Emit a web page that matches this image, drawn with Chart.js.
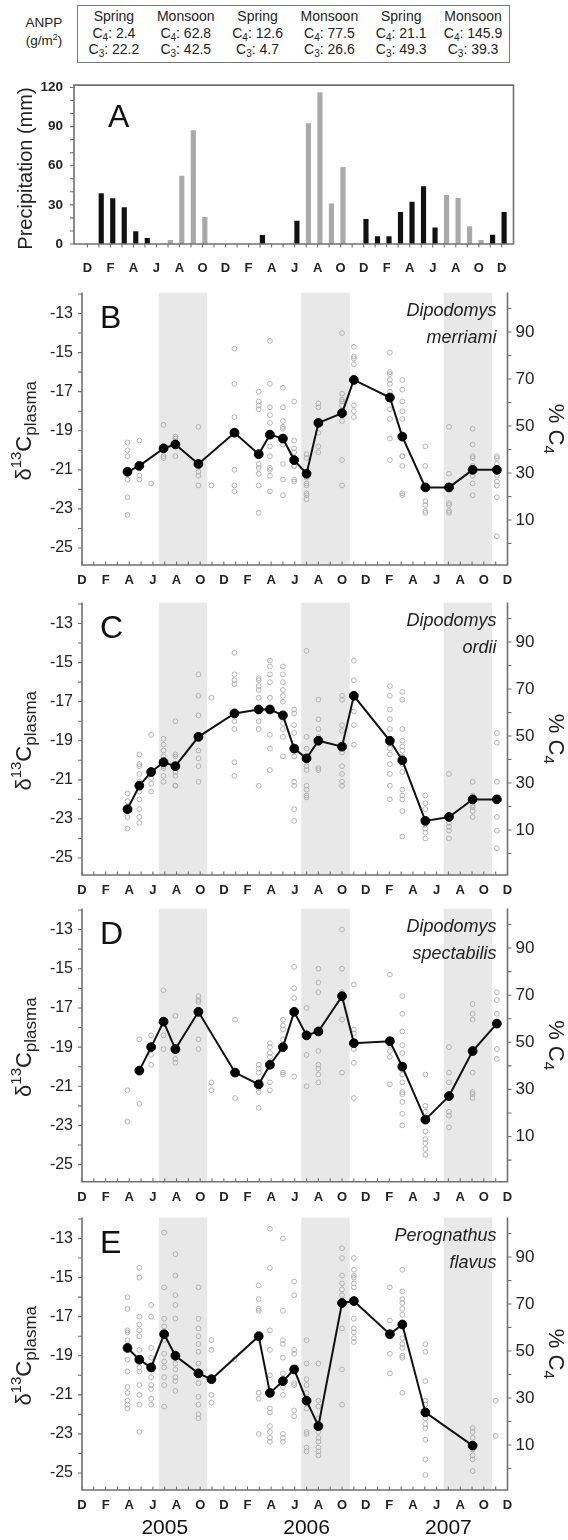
<!DOCTYPE html>
<html>
<head>
<meta charset="utf-8">
<script src="https://cdn.jsdelivr.net/npm/chart.js@4.4.0/dist/chart.umd.min.js"></script>
<style>
  body { margin: 0; background: #fff; width: 568px; height: 1540px; position: relative; overflow: hidden;
         font-family: "Liberation Sans", Arial, Helvetica, sans-serif; color: #222; }
  canvas { position: absolute; left: 0; }
  sub { font-size: 10px; vertical-align: -3px; line-height: 0; }
  sup { font-size: 9px; vertical-align: 5px; line-height: 0; }
  #anppLab { position: absolute; left: 14px; top: 14px; width: 60px; text-align: center; font-size: 13.5px; line-height: 18.4px; }
  #anpp { position: absolute; left: 77px; top: 5px; width: 433px; height: 58px; border: 1.5px solid #777;
          box-sizing: border-box; display: flex; }
  #anpp .col { flex: 1; text-align: center; font-size: 14px; line-height: 16.6px; padding-top: 2px; }
</style>
</head>
<body>
<div id="anppLab">ANPP<br>(g/m<sup>2</sup>)</div>
<div id="anpp"></div>
<canvas id="panelA" width="568" height="214" style="top:66px"></canvas>
<canvas id="panelB" width="568" height="317" style="top:274px"></canvas>
<canvas id="panelC" width="568" height="317" style="top:584px"></canvas>
<canvas id="panelD" width="568" height="318" style="top:890px"></canvas>
<canvas id="panelE" width="568" height="341" style="top:1199px"></canvas>
<script>
// ---- data ----
const monthLetters = ['D', 'F', 'A', 'J', 'A', 'O'];
const yearLabels = ['2005', '2006', '2007'];
const yearMonths = [7, 19, 31];
const monsoonBands = [[6.5, 10.6], [18.55, 22.65], [30.6, 34.7]];

const anppSeasons = ['Spring', 'Monsoon', 'Spring', 'Monsoon', 'Spring', 'Monsoon'];
const anppC4 = ['2.4', '62.8', '12.6', '77.5', '21.1', '145.9'];
const anppC3 = ['22.2', '42.5', '4.7', '26.6', '49.3', '39.3'];

// months counted from Dec 2004 = 0
const rainMonths = [1, 2, 3, 4, 5, 7, 8, 9, 10, 15, 18, 19, 20, 21, 22, 24, 25, 26, 27, 28, 29, 30, 31, 32, 33, 34, 35, 36];
const rainValues = [38.6, 34.8, 28, 9.5, 4.3, 2.8, 52.1, 87, 20.4, 6.6, 17.5, 92.4, 116, 30.8, 58.8, 19, 5.7, 5.7, 24.2, 32.2, 44, 12.3, 37.4, 35, 13.3, 2.8, 6.9, 24.2];

const bMonths = [3.85, 4.85, 5.85, 6.9, 7.9, 9.85, 10.95, 12.9, 14.95, 15.9, 17, 17.95, 19, 20, 22, 23, 26.05, 27.1, 29.05, 31.05, 33.05, 35.1];
const bMean = [-21.1, -20.8, null, -19.9, -19.7, -20.7, null, -19.1, -20.2, -19.2, -19.4, -20.5, -21.2, -18.6, -18.1, -16.4, -17.3, -19.3, -21.9, -21.9, -21.0, -21.0];
const bIndiv = [
  [-19.6, -20.0, -20.3, -21.5, -22.4, -23.3],
  [-19.5, -21.3, -21.5],
  [-21.7],
  [-18.7, -20.3, -20.4],
  [-19.3, -19.4, -20.3],
  [-18.8, -21.1, -21.3, -21.8],
  [-21.8],
  [-14.8, -16.6, -18.3, -21.0, -21.8, -22.1],
  [-17.0, -17.5, -17.7, -17.9, -20.7, -20.9, -21.2, -21.8, -23.2],
  [-14.4, -16.6, -17.8, -18.2, -18.6, -19.1, -19.8, -20.3, -20.9, -21.0, -21.3, -22.1],
  [-16.8, -17.8, -18.5, -18.8, -18.9, -19.7, -20.7, -21.5, -22.3],
  [-17.5, -19.5, -19.9, -20.1, -20.8, -20.8, -21.5, -21.6],
  [-20.2, -20.4, -21.4, -21.7, -21.8, -22.2, -22.3, -22.5],
  [-17.6, -17.8, -19.1, -19.8, -20.1],
  [-14.0, -17.1, -17.4, -17.5, -17.7, -18.0, -18.5, -20.5, -21.8],
  [-14.7, -15.2, -15.3, -15.6, -17.7, -18.0, -18.3],
  [-15.0, -16.0, -16.1, -16.4, -16.6, -17.0, -17.9, -18.4, -19.4, -20.5],
  [-16.4, -16.9, -17.5, -18.0, -18.4, -20.3, -20.3, -20.8, -22.2, -22.3],
  [-19.8, -20.8, -22.6, -22.8, -23.1, -23.2],
  [-18.8, -21.2, -22.7, -22.8, -23.1, -23.2],
  [-18.9, -19.7, -20.3, -20.4, -20.8, -21.3, -21.7, -22.3],
  [-20.3, -20.4, -20.7, -21.0, -21.3, -21.6, -21.8, -22.4, -24.4]
];

const cMonths = [3.85, 4.85, 5.85, 6.9, 7.9, 9.85, 10.95, 12.9, 14.95, 15.9, 17, 17.95, 19, 20, 22, 23, 26.05, 27.1, 29.05, 31.05, 33.05, 35.1];
const cMean = [-22.5, -21.3, -20.6, -20.1, -20.3, -18.8, null, -17.6, -17.4, -17.4, -17.7, -19.4, -19.9, -19.0, -19.3, -16.7, -19.0, -20.0, -23.1, -22.9, -22.0, -22.0];
const cIndiv = [
  [-21.7, -22.1, -22.9, -23.5],
  [-19.7, -20.2, -20.3, -20.7, -21.1, -21.6, -22.0, -22.5, -22.9, -23.2],
  [-18.7, -20.7, -20.9, -21.2, -21.6],
  [-18.9, -19.2, -19.5, -19.8, -20.3, -20.4, -20.8, -21.1],
  [-18.0, -19.7, -19.8, -20.6, -20.8, -21.3, -21.3],
  [-15.6, -16.7, -17.7, -19.5, -19.9, -20.3, -21.1],
  [-16.8],
  [-14.5, -15.6, -15.9, -16.1, -18.0, -18.4, -20.1, -20.8],
  [-15.8, -15.9, -16.2, -16.4, -16.8, -18.0, -18.4, -21.3],
  [-14.9, -15.2, -15.6, -16.0, -16.8, -18.7, -19.4, -20.5],
  [-15.2, -15.6, -16.0, -16.4, -16.7, -17.0, -18.1, -18.4, -18.8, -19.8],
  [-17.4, -17.6, -18.2, -18.6, -19.8, -21.1, -21.3, -22.5, -23.1],
  [-14.4, -18.8, -19.4, -20.3, -20.5, -21.3, -21.5, -21.8, -21.9],
  [-16.9, -17.9, -18.4, -18.8, -19.0, -20.4, -20.5],
  [-16.7, -16.9, -18.2, -18.5, -19.6, -20.3, -20.7, -21.1, -21.3],
  [-14.9, -15.9, -17.5, -18.2, -19.2],
  [-16.2, -16.7, -17.4, -17.9, -18.4, -19.4, -19.7, -20.2, -20.7, -21.3, -22.0],
  [-16.5, -16.9, -18.4, -19.0, -19.3, -19.5, -19.8, -20.2, -20.6, -21.5, -21.8, -22.0, -22.6, -23.9],
  [-21.8, -22.2, -22.5, -23.3, -23.5, -23.7, -24.0],
  [-20.7, -22.9, -23.2, -23.4, -23.6, -24.0],
  [-21.1, -21.8, -22.3, -22.4, -22.6, -22.9],
  [-18.6, -19.1, -21.1, -22.9, -23.6, -24.5]
];

const dMonths = [3.85, 4.85, 5.85, 6.9, 7.9, 9.85, 10.95, 12.95, 14.95, 15.9, 17, 17.95, 19, 20, 22, 23, 26.05, 27.1, 29.05, 31.05, 33.05, 35.1];
const dMean = [null, -20.2, -19.0, -17.7, -19.1, -17.2, null, -20.3, -20.9, -19.9, -19.0, -17.2, -18.4, -18.2, -16.4, -18.8, -18.7, -20.0, -22.7, -21.5, -19.2, -17.8];
const dIndiv = [
  [-21.2, -22.8],
  [-18.6, -21.9],
  [-18.4, -19.4, -19.9],
  [-16.1, -18.4, -19.1],
  [-17.4, -19.6, -19.8],
  [-16.4, -16.6, -16.7, -18.6, -19.1],
  [-20.8, -21.2],
  [-17.6, -21.6],
  [-19.9, -20.1, -20.3, -21.1, -21.3, -22.1],
  [-18.8, -19.0, -19.3, -19.5, -20.8, -21.2],
  [-17.6, -17.9, -18.1, -18.6, -20.3, -20.4],
  [-14.9, -16.0, -16.5, -20.5],
  [-17.0, -18.4, -19.4, -21.0],
  [-15.0, -15.7, -16.2, -19.2, -19.9, -20.1, -20.4, -20.8],
  [-13.0, -15.0, -16.2, -17.6, -20.3],
  [-15.8, -18.1, -18.3, -19.1, -19.8, -21.6],
  [-15.3, -18.9, -19.2, -19.5, -20.9],
  [-16.4, -17.3, -18.2, -18.9, -19.3, -20.4, -20.8, -21.3, -21.4, -21.8, -22.4, -23.0],
  [-20.4, -22.0, -22.3, -23.3, -23.7, -23.9, -24.2, -24.5],
  [-19.0, -20.3, -20.8, -22.3, -22.5, -23.1],
  [-16.8, -17.3, -17.6, -20.3, -21.3, -21.4, -21.6],
  [-16.2, -16.6, -17.3, -19.1, -19.6]
];

const eMonths = [3.85, 4.85, 5.85, 6.95, 7.9, 9.85, 10.95, 12.9, 14.95, 15.9, 17, 17.95, 19, 20, 22, 23, 26.05, 27.1, 29.05, 33.05, 35.0];
const eMean = [-18.6, -19.2, -19.6, -17.9, -19.0, -19.9, -20.2, null, -18.0, -20.9, -20.3, -19.7, -21.3, -22.6, -16.3, -16.2, -17.9, -17.4, -21.9, -23.6, null];
const eIndiv = [
  [-16.0, -16.6, -17.7, -17.8, -18.2, -19.2, -19.8, -20.6, -20.9, -21.3, -21.5, -21.7],
  [-14.5, -15.0, -17.0, -17.4, -17.7, -18.0, -18.7, -19.6, -19.8, -20.5, -21.0, -21.5, -22.9],
  [-16.4, -17.0, -18.6, -19.1, -20.1, -20.5, -20.7, -21.2, -21.5],
  [-12.7, -15.5, -17.1, -17.5, -18.2, -18.9, -19.3, -19.6, -20.1, -20.5, -21.6],
  [-13.8, -14.9, -15.9, -16.4, -17.1, -19.4, -19.7, -20.1, -20.3, -20.8],
  [-15.5, -17.1, -17.6, -18.0, -18.4, -18.8, -19.4, -20.0, -20.4, -21.1, -21.5, -22.0, -22.2],
  [-18.2, -18.7, -20.2, -21.0, -21.4],
  [-19.2],
  [-15.4, -16.1, -16.6, -16.7, -20.9, -21.2, -23.0],
  [-12.5, -14.5, -17.7, -18.7, -20.0, -21.7, -21.9, -22.6, -22.9, -23.2, -23.4],
  [-13.0, -16.7, -18.2, -18.4, -19.1, -19.9, -20.2, -20.6, -21.0, -23.0, -23.2, -23.4],
  [-15.2, -15.9, -18.7, -18.9, -20.4, -20.5, -21.8, -22.1],
  [-18.2, -19.4, -20.2, -20.5, -20.9, -21.7, -22.9, -23.0, -23.7, -23.9],
  [-19.4, -21.3, -21.6, -22.2, -22.9, -23.2, -23.4, -23.7, -23.9, -24.1],
  [-13.5, -14.0, -14.9, -15.3, -15.6, -15.9, -17.6, -19.7, -21.5],
  [-14.0, -14.6, -14.9, -15.0, -15.3, -15.5, -17.1, -17.6, -17.8, -18.1, -18.3],
  [-15.5, -17.2, -18.9, -19.9],
  [-14.6, -15.7, -16.1, -16.3, -16.6, -16.9, -17.3, -18.1, -18.4, -18.6, -19.0, -19.1, -20.9],
  [-18.4, -18.8, -20.3, -21.3, -21.5, -22.2, -22.5, -22.7, -23.3, -24.3, -25.1],
  [-22.7, -22.9, -23.2, -23.8, -24.1, -24.3, -24.9],
  [-21.3, -23.1]
];

// ---- layout / style ----
const FONT = '"Liberation Sans", Arial, Helvetica, sans-serif';
Chart.defaults.font.family = FONT;
Chart.defaults.color = '#222';
const FRAME = '#707070';
const BAND = '#e8e8e8';
const BAR_SHIFT = 0.2;
const D13_RANGE = [-25.87, -11.93];
const C4_RANGE = [-9.17, 106.75];

// ANPP box
document.getElementById('anpp').innerHTML = anppSeasons.map((s, i) =>
  `<div class="col">${s}<br>C<sub>4</sub>: ${anppC4[i]}<br>C<sub>3</sub>: ${anppC3[i]}</div>`).join('');

function range(a, b, step) {
  const out = [];
  for (let v = a; v <= b + 1e-9; v += step) out.push(v);
  return out;
}

function drawRich(ctx, parts, cx, cy, rot) {
  ctx.save();
  ctx.translate(cx, cy);
  ctx.rotate(rot);
  ctx.textAlign = 'left';
  ctx.textBaseline = 'alphabetic';
  ctx.fillStyle = '#222';
  let total = 0;
  parts.forEach(p => {
    ctx.font = `${p.style || ''} ${p.size}px ${FONT}`;
    p.w = ctx.measureText(p.t).width;
    total += p.w;
  });
  let x0 = -total / 2;
  parts.forEach(p => {
    ctx.font = `${p.style || ''} ${p.size}px ${FONT}`;
    ctx.fillText(p.t, x0, p.dy);
    x0 += p.w;
  });
  ctx.restore();
}

// draws bands, frame, ticks and panel texts
function decor(cfg) {
  return {
    id: 'decor',
    beforeDatasetsDraw(chart) {
      if (!cfg.bands) return;
      const { ctx, chartArea: a, scales: { x } } = chart;
      ctx.save();
      ctx.fillStyle = BAND;
      cfg.bands.forEach(([s, e]) => {
        const x0 = x.getPixelForValue(s), x1 = x.getPixelForValue(e);
        ctx.fillRect(x0, a.top, x1 - x0, a.bottom - a.top);
      });
      ctx.restore();
    },
    afterDraw(chart) {
      const { ctx, chartArea: a, scales } = chart;
      ctx.save();
      ctx.strokeStyle = FRAME;
      ctx.lineWidth = 1.6;
      ctx.beginPath();
      if (cfg.boxed) {
        ctx.rect(a.left, a.top, a.right - a.left, a.bottom - a.top);
      } else {
        ctx.moveTo(a.left, a.top);
        ctx.lineTo(a.left, a.bottom);
        ctx.lineTo(a.right, a.bottom);
        ctx.lineTo(a.right, a.top);
      }
      ctx.stroke();

      ctx.lineWidth = 1.1;
      ctx.beginPath();
      range(0, 36, 1).forEach(m => {
        const px = scales.x.getPixelForValue(m);
        ctx.moveTo(px, a.bottom);
        ctx.lineTo(px, a.bottom + cfg.xTickDir * 3.5);
      });
      cfg.leftTicks.forEach(v => {
        const py = scales.y.getPixelForValue(v);
        ctx.moveTo(a.left, py);
        ctx.lineTo(a.left - 4, py);
      });
      if (cfg.rightTicks) {
        cfg.rightTicks.forEach(v => {
          const py = scales.y2.getPixelForValue(v);
          ctx.moveTo(a.right, py);
          ctx.lineTo(a.right + 4, py);
        });
      }
      ctx.stroke();

      // panel letter
      ctx.fillStyle = '#111';
      ctx.font = `32px ${FONT}`;
      ctx.textAlign = 'left';
      ctx.textBaseline = 'alphabetic';
      ctx.fillText(cfg.letter, cfg.letterX, a.top + cfg.letterDy);

      // species name
      if (cfg.species) {
        ctx.font = `italic 18px ${FONT}`;
        ctx.textAlign = 'right';
        ctx.fillStyle = '#222';
        ctx.fillText(cfg.species[0], a.right - 11, a.top + 23.5);
        ctx.fillText(cfg.species[1], a.right - 11, a.top + 50);
      }

      // axis titles
      const cy = (a.top + a.bottom) / 2;
      if (cfg.precipTitle) {
        drawRich(ctx, [{ t: 'Precipitation (mm)', size: 20, dy: 7 }], 25, cy + 4, -Math.PI / 2);
      } else {
        drawRich(ctx, [
          { t: '\u03b4', size: 22, dy: 8 },
          { t: '13', size: 15, dy: -2 },
          { t: 'C', size: 22, dy: 8 },
          { t: 'plasma', size: 17, dy: 13 }
        ], 23, cy + 2, -Math.PI / 2);
        drawRich(ctx, [
          { t: '% C', size: 22, dy: 8 },
          { t: '4', size: 15, dy: 13 }
        ], 557, cy, Math.PI / 2);
      }

      if (cfg.years) {
        ctx.font = `21px ${FONT}`;
        ctx.textAlign = 'center';
        ctx.fillStyle = '#111';
        yearLabels.forEach((t, i) => {
          ctx.fillText(t, scales.x.getPixelForValue(yearMonths[i]), a.bottom + 44);
        });
      }
      ctx.restore();
    }
  };
}

function monthAxis(min, max, pad, bottomH) {
  return {
    type: 'linear', min: min, max: max,
    grid: { display: false, drawTicks: false }, border: { display: false },
    afterBuildTicks: s => { s.ticks = range(0, 36, 1).map(v => ({ value: v })); },
    afterFit: s => { s.height = bottomH; },
    ticks: {
      autoSkip: false, maxRotation: 0, padding: pad, color: '#222',
      font: { size: 13, weight: 'bold' },
      callback: v => (v % 2 === 0 ? monthLetters[(v / 2) % 6] : '')
    }
  };
}

// ---- panel A: precipitation ----
function createPrecipPanel() {
  new Chart(document.getElementById('panelA'), {
    type: 'bar',
    data: {
      datasets: [{
        data: rainMonths.map((m, i) => ({ x: m + BAR_SHIFT, y: rainValues[i] })),
        backgroundColor: rainMonths.map(m => ([7, 8, 9, 10].includes(m % 12) ? '#a9a9a9' : '#111')),
        barThickness: 4.5
      }]
    },
    options: {
      responsive: false, animation: false, devicePixelRatio: 1,
      layout: { padding: { top: 7.5, right: 54.5, left: 0, bottom: 0 } },
      plugins: { legend: { display: false }, tooltip: { enabled: false } },
      scales: {
        x: monthAxis(-0.65, 36.5, 17, 36),
        y: {
          min: 0, max: 121.8,
          grid: { display: false, drawTicks: false }, border: { display: false },
          afterBuildTicks: s => { s.ticks = range(0, 120, 30).map(v => ({ value: v })); },
          afterFit: s => { s.width = 74; },
          ticks: { padding: 11, color: '#222', font: { size: 13.5, weight: 'bold' } }
        }
      }
    },
    plugins: [decor({
      boxed: true, xTickDir: 1, leftTicks: range(0, 120, 10),
      letter: 'A', letterX: 108, letterDy: 41.5, precipTitle: true
    })]
  });
}

// ---- panels B-E: plasma d13C ----
function createIsotopePanel(id, months, means, indiv, species, letter, topPad, bottomH, years) {
  const meanPts = [];
  months.forEach((m, i) => { if (means[i] !== null) meanPts.push({ x: m, y: means[i] }); });
  const indivPts = [];
  months.forEach((m, i) => indiv[i].forEach(v => indivPts.push({ x: m, y: v })));

  new Chart(document.getElementById(id), {
    type: 'scatter',
    data: {
      datasets: [
        {
          data: meanPts, showLine: true, order: 0,
          borderColor: '#111', borderWidth: 2,
          pointRadius: 4.4, pointBackgroundColor: '#000', pointBorderColor: '#000', pointBorderWidth: 1
        },
        {
          data: indivPts, order: 1,
          pointRadius: 2.4, pointBorderWidth: 0.9,
          pointBorderColor: '#ababab', pointBackgroundColor: 'rgba(0,0,0,0)'
        }
      ]
    },
    options: {
      responsive: false, animation: false, devicePixelRatio: 1,
      layout: { padding: { top: topPad, right: 0, left: 0, bottom: 0 } },
      plugins: { legend: { display: false }, tooltip: { enabled: false } },
      scales: {
        x: monthAxis(0, 36, 8, bottomH),
        y: {
          position: 'left', min: D13_RANGE[0], max: D13_RANGE[1],
          grid: { display: false, drawTicks: false }, border: { display: false },
          afterBuildTicks: s => { s.ticks = range(-25, -13, 2).map(v => ({ value: v })); },
          afterFit: s => { s.width = 82; },
          ticks: { padding: 9, color: '#222', font: { size: 16 }, callback: v => String(v) }
        },
        y2: {
          position: 'right', min: C4_RANGE[0], max: C4_RANGE[1],
          grid: { display: false, drawTicks: false }, border: { display: false },
          afterBuildTicks: s => { s.ticks = range(10, 90, 20).map(v => ({ value: v })); },
          afterFit: s => { s.width = 60.5; },
          ticks: { padding: 8, color: '#222', font: { size: 17 } }
        }
      }
    },
    plugins: [decor({
      bands: monsoonBands, boxed: false, xTickDir: -1,
      leftTicks: range(-25, -12, 1), rightTicks: range(0, 100, 10),
      letter: letter, letterX: 100, letterDy: 35, species: species, years: years
    })]
  });
}

createPrecipPanel();
createIsotopePanel('panelB', bMonths, bMean, bIndiv, ['Dipodomys', 'merriami'], 'B', 9.3, 26, false);
createIsotopePanel('panelC', cMonths, cMean, cIndiv, ['Dipodomys', 'ordii'], 'C', 9.3, 26, false);
createIsotopePanel('panelD', dMonths, dMean, dIndiv, ['Dipodomys', 'spectabilis'], 'D', 10, 26.3, false);
createIsotopePanel('panelE', eMonths, eMean, eIndiv, ['Perognathus', 'flavus'], 'E', 9.3, 50, true);
</script>
</body>
</html>
